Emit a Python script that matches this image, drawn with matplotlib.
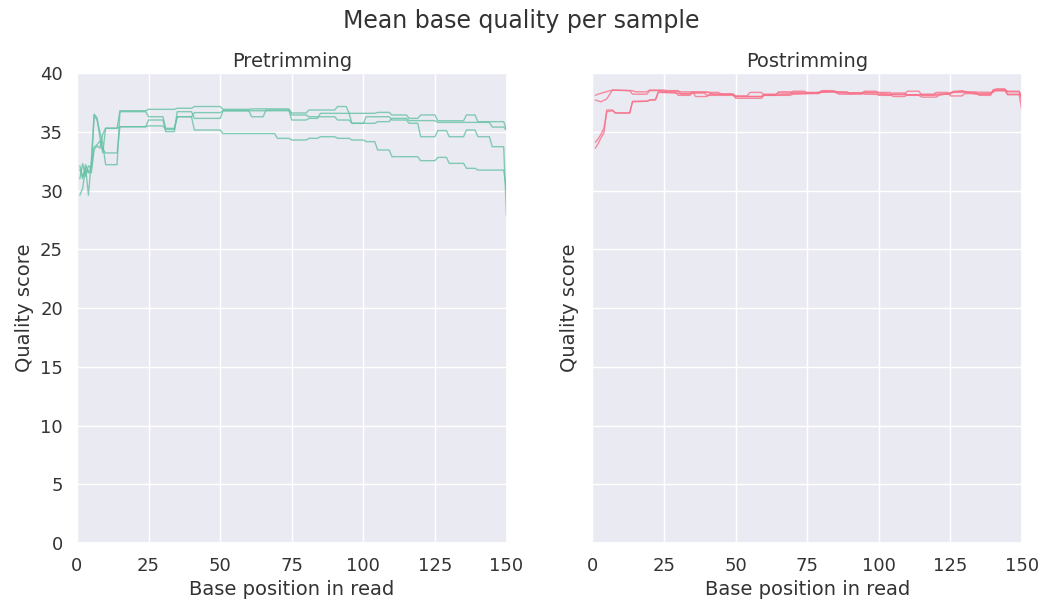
import matplotlib
matplotlib.use("Agg")
import matplotlib.pyplot as plt
import seaborn as sns

# ---------------- data ----------------
x_ticks = [0, 25, 50, 75, 100, 125, 150]
y_ticks = [0, 5, 10, 15, 20, 25, 30, 35, 40]

# Pretrimming samples
pre_a_x = [1, 2, 3, 4, 5, 6, 7, 8, 9, 10, 14, 15, 24, 25, 34, 35, 40, 41, 50, 51, 60, 61, 74, 75, 80, 81, 90,
           91, 94, 95, 104, 105, 109, 110, 115, 116, 119, 120, 125, 126, 135, 136, 139, 140, 149, 150]
pre_a_y = [31.0, 32.3, 31.2, 32.1, 31.9, 36.5, 36.2, 34.5, 33.2, 35.3, 35.3, 36.79, 36.79, 36.91, 36.91, 37.0, 37.0,
           37.15, 37.15, 36.91, 36.91, 36.95, 36.95, 36.6, 36.6, 36.85, 36.85, 37.15, 37.15, 36.57, 36.57, 36.65,
           36.65, 36.43, 36.43, 36.14, 36.14, 36.43, 36.43, 35.94, 35.94, 36.43, 36.43, 35.86, 35.86, 35.15]

pre_b_x = [1, 2, 3, 4, 5, 6, 7, 8, 9, 10, 14, 15, 24, 25, 30, 31, 34, 35, 40, 41, 50, 51, 60, 61, 65, 66, 74,
           75, 80, 81, 84, 85, 95, 96, 100, 101, 109, 110, 115, 116, 119, 120, 125, 126, 129, 130, 135, 136,
           139, 140, 144, 145, 149, 150]
pre_b_y = [29.6, 30.2, 32.0, 29.6, 32.5, 36.4, 36.0, 35.0, 34.0, 32.2, 32.2, 36.71, 36.71, 36.28, 36.28, 35.29,
           35.29, 36.28, 36.28, 36.63, 36.63, 36.79, 36.79, 36.28, 36.28, 36.85, 36.85, 36.0, 36.0, 36.14, 36.14,
           36.57, 36.57, 35.72, 35.72, 36.28, 36.28, 36.0, 36.0, 35.72, 35.72, 34.58, 34.58, 35.1, 35.1, 34.58,
           34.58, 35.15, 35.15, 34.58, 34.58, 33.73, 33.73, 27.8]

pre_c_x = [1, 2, 3, 4, 5, 6, 7, 8, 9, 10, 14, 15, 24, 25, 30, 31, 34, 35, 40, 41, 50, 51, 74, 75, 80, 81, 90,
           91, 95, 96, 104, 105, 109, 110, 115, 116, 125, 126, 135, 136, 144, 145, 149, 150]
pre_c_y = [32.1, 31.2, 31.8, 31.5, 32.0, 33.7, 33.9, 34.2, 33.5, 33.2, 33.2, 35.43, 35.43, 36.0, 36.0, 35.01,
           35.01, 36.71, 36.71, 36.14, 36.14, 36.79, 36.79, 36.43, 36.43, 36.28, 36.28, 36.0, 36.0, 35.72, 35.72,
           35.86, 35.86, 36.14, 36.14, 35.95, 35.95, 35.8, 35.8, 35.8, 35.8, 35.4, 35.4, 35.15]

pre_d_x = [1, 2, 3, 4, 5, 6, 7, 8, 9, 10, 14, 15, 24, 25, 30, 31, 34, 35, 40, 41, 50, 51, 69, 70, 74, 75, 80,
           81, 84, 85, 90, 91, 95, 96, 100, 101, 104, 105, 109, 110, 119, 120, 125, 126, 129, 130, 135, 136,
           139, 140, 149, 150]
pre_d_y = [31.8, 31.0, 32.2, 31.6, 31.5, 33.5, 33.8, 33.6, 34.8, 35.3, 35.3, 35.43, 35.43, 35.5, 35.5, 35.2,
           35.2, 36.28, 36.28, 35.15, 35.15, 34.85, 34.85, 34.44, 34.44, 34.3, 34.3, 34.44, 34.44, 34.58, 34.58,
           34.44, 34.44, 34.3, 34.3, 34.16, 34.16, 33.45, 33.45, 32.88, 32.88, 32.54, 32.54, 32.82, 32.82, 32.31,
           32.31, 31.89, 31.89, 31.74, 31.74, 30.0]

# Posttrimming samples
post_a_x = [1, 2, 4, 7, 14, 15, 19, 20, 25, 26, 30, 31, 34, 35, 40, 42, 49, 50, 59, 60, 64, 65, 69, 70, 74, 75,
            85, 90, 94, 95, 99, 100, 104, 109, 110, 114, 115, 120, 121, 125, 126, 129, 130, 140, 141, 144, 145,
            149, 150]
post_a_y = [38.1, 38.2, 38.35, 38.55, 38.5, 38.4, 38.4, 38.55, 38.55, 38.5, 38.5, 38.2, 38.2, 38.4, 38.4, 38.2,
            38.2, 38.0, 38.0, 38.2, 38.2, 38.3, 38.3, 38.45, 38.45, 38.3, 38.4, 38.3, 38.3, 38.45, 38.45, 38.3,
            38.2, 38.2, 38.45, 38.45, 38.1, 38.1, 38.2, 38.2, 38.45, 38.45, 38.4, 38.35, 38.65, 38.65, 38.4,
            38.4, 38.1]

post_b_x = [1, 3, 5, 7, 13, 14, 19, 20, 24, 25, 29, 30, 35, 36, 40, 41, 49, 50, 59, 60, 64, 65, 69, 70, 79, 80,
            85, 86, 90, 91, 99, 100, 104, 105, 109, 110, 114, 115, 120, 121, 129, 134, 139, 140, 144, 145, 149,
            150]
post_b_y = [37.7, 37.55, 37.8, 38.55, 38.5, 38.2, 38.2, 38.5, 38.5, 38.45, 38.45, 38.4, 38.4, 38.0, 38.0, 38.2,
            38.2, 37.85, 37.85, 38.1, 38.1, 38.15, 38.2, 38.35, 38.35, 38.45, 38.45, 38.2, 38.2, 38.3, 38.3, 38.1,
            38.1, 38.3, 38.3, 38.1, 38.1, 37.95, 37.95, 38.1, 38.5, 38.2, 38.2, 38.5, 38.5, 38.15, 38.15, 36.7]

post_c_x = [1, 2, 3, 4, 5, 7, 8, 13, 14, 19, 20, 22, 23, 29, 30, 34, 35, 44, 45, 49, 50, 54, 55, 59, 60, 69,
            70, 79, 80, 84, 85, 94, 95, 104, 105, 109, 110, 119, 120, 124, 125, 129, 130, 139, 140, 144, 145,
            149, 150]
post_c_y = [33.6, 34.0, 34.5, 34.9, 36.85, 36.85, 36.6, 36.6, 37.55, 37.6, 37.7, 37.7, 38.4, 38.35, 38.1, 38.1,
            38.35, 38.35, 38.2, 38.2, 38.05, 38.05, 38.35, 38.35, 38.1, 38.1, 38.2, 38.3, 38.5, 38.5, 38.3, 38.3,
            38.2, 38.15, 38.0, 38.0, 38.15, 38.15, 38.35, 38.35, 38.05, 38.05, 38.25, 38.25, 38.5, 38.5, 38.45,
            38.45, 37.5]

post_d_x = [1, 2, 3, 4, 5, 7, 8, 13, 14, 19, 20, 22, 23, 29, 30, 39, 40, 49, 50, 59, 60, 64, 65, 69, 70, 79,
            80, 89, 90, 94, 95, 104, 105, 114, 115, 124, 125, 134, 135, 139, 140, 144, 145, 149, 150]
post_d_y = [34.1, 34.4, 34.8, 35.3, 36.7, 36.8, 36.6, 36.6, 37.6, 37.6, 37.7, 37.75, 38.35, 38.3, 38.25, 38.3,
            38.1, 38.1, 38.0, 38.0, 38.15, 38.15, 38.4, 38.4, 38.25, 38.25, 38.4, 38.4, 38.2, 38.2, 38.35, 38.35,
            38.15, 38.15, 38.2, 38.2, 38.35, 38.35, 38.1, 38.1, 38.6, 38.6, 38.2, 38.2, 38.0]

pre_series = [(pre_a_x, pre_a_y), (pre_b_x, pre_b_y), (pre_c_x, pre_c_y), (pre_d_x, pre_d_y)]
post_series = [(post_a_x, post_a_y), (post_b_x, post_b_y), (post_c_x, post_c_y), (post_d_x, post_d_y)]

pre_color = "#66c2a5"
post_color = "#f77189"

# ---------------- plot ----------------
sns.set_theme(style="darkgrid")
plt.rcParams['font.family'] = ['DejaVu Sans']

fig, axes = plt.subplots(1, 2, figsize=(10.43, 6.02), dpi=100, sharey=True)
fig.subplots_adjust(left=0.0738, right=0.9799, bottom=0.098, top=0.8787, wspace=0.2)

for ax, series, color, title in [(axes[0], pre_series, pre_color, "Pretrimming"),
                                  (axes[1], post_series, post_color, "Postrimming")]:
    for xs, ys in series:
        ax.plot(xs, ys, color=color, lw=1.0, alpha=0.8)
    ax.set_xlim(0, 150)
    ax.set_ylim(0, 40)
    ax.set_xticks(x_ticks)
    ax.set_yticks(y_ticks)
    ax.set_title(title, fontsize=14, color="#333333", pad=4)
    ax.set_xlabel("Base position in read", fontsize=14, color="#333333", labelpad=4)
    ax.set_ylabel("Quality score", fontsize=14, color="#333333")
    ax.tick_params(labelsize=13, colors="#333333", pad=4)

axes[0].yaxis.set_label_coords(-0.1, 0.5)
axes[1].tick_params(labelleft=False)
axes[1].yaxis.set_label_coords(-0.032, 0.5)
fig.suptitle("Mean base quality per sample", fontsize=17, color="#333333", y=0.985)

fig.savefig("out.png", dpi=100)
